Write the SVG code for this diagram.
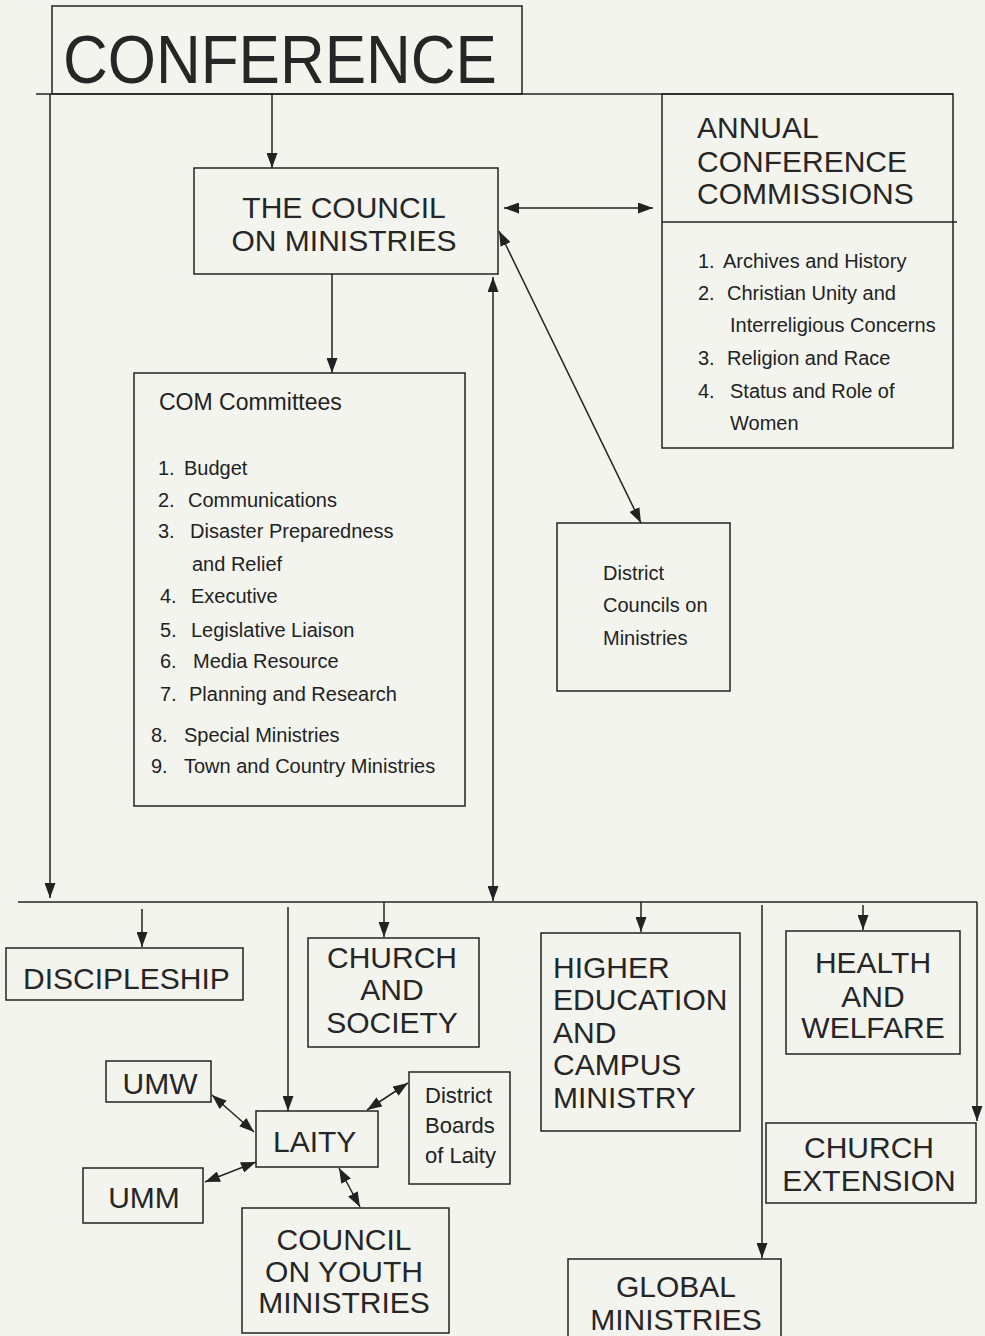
<svg xmlns="http://www.w3.org/2000/svg" width="985" height="1336" viewBox="0 0 985 1336">
<defs>
<marker id="ah" viewBox="0 0 15 11" refX="15" refY="5.5" markerWidth="15" markerHeight="11" orient="auto-start-reverse" markerUnits="userSpaceOnUse">
<path d="M0,0 L15,5.5 L0,11 z" fill="#222"/>
</marker>
<style>
.box{fill:none;stroke:#222;stroke-width:1.5}
.ln{fill:none;stroke:#222;stroke-width:1.5}
.a{marker-end:url(#ah)}
.d{marker-start:url(#ah);marker-end:url(#ah)}
.cap{font-family:"Liberation Sans",Arial,sans-serif;font-size:30px;fill:#262626}
.big{font-family:"Liberation Sans",Arial,sans-serif;font-size:62px;fill:#262626}
.sm{font-family:"Liberation Sans",Arial,sans-serif;font-size:20px;fill:#222}
.mid{text-anchor:middle}
</style>
</defs>
<rect x="0" y="0" width="985" height="1336" fill="#f4f4ef"/>

<g id="connectors">
<line class="ln a" x1="272" y1="94" x2="272" y2="168"/>
<line class="ln d" x1="504" y1="208" x2="653" y2="208"/>
<line class="ln a" x1="332" y1="274" x2="332" y2="373"/>
<line class="ln d" x1="499" y1="231" x2="641" y2="523"/>
<line class="ln d" x1="493" y1="277" x2="493" y2="901"/>
<line class="ln" x1="36" y1="94" x2="953" y2="94"/>
<line class="ln a" x1="50" y1="94" x2="50" y2="898"/>
<line class="ln" x1="18" y1="902" x2="977" y2="902"/>
<line class="ln a" x1="142" y1="909" x2="142" y2="947"/>
<line class="ln a" x1="288" y1="907" x2="288" y2="1111"/>
<line class="ln a" x1="384" y1="902" x2="384" y2="937"/>
<line class="ln a" x1="641" y1="902" x2="641" y2="932"/>
<line class="ln a" x1="762" y1="905" x2="762" y2="1258"/>
<line class="ln a" x1="863" y1="905" x2="863" y2="930"/>
<line class="ln a" x1="977" y1="902" x2="977" y2="1121"/>
<line class="ln d" x1="212" y1="1095" x2="254" y2="1132"/>
<line class="ln d" x1="205" y1="1182" x2="256" y2="1162"/>
<line class="ln d" x1="367" y1="1110" x2="408" y2="1083"/>
<line class="ln d" x1="339" y1="1168" x2="360" y2="1207"/>
</g>

<g id="conference">
<rect class="box" x="52" y="6" width="470" height="88"/>
<text class="big" transform="translate(63,83) scale(1,1.1)">CONFERENCE</text>
</g>

<g id="council">
<rect class="box" x="194" y="168" width="304" height="106"/>
<text class="cap mid" x="344" y="218">THE COUNCIL</text>
<text class="cap mid" x="344" y="251">ON MINISTRIES</text>
</g>

<g id="annual">
<rect class="box" x="662" y="94" width="291" height="354"/>
<line class="ln" x1="662" y1="222" x2="957" y2="222"/>
<text class="cap" x="697" y="138">ANNUAL</text>
<text class="cap" x="697" y="172">CONFERENCE</text>
<text class="cap" x="697" y="204">COMMISSIONS</text>
<text class="sm" x="698" y="268">1.</text><text class="sm" x="723" y="268">Archives and History</text>
<text class="sm" x="698" y="300">2.</text><text class="sm" x="727" y="300">Christian Unity and</text>
<text class="sm" x="730" y="332">Interreligious Concerns</text>
<text class="sm" x="698" y="365">3.</text><text class="sm" x="727" y="365">Religion and Race</text>
<text class="sm" x="698" y="398">4.</text><text class="sm" x="730" y="398">Status and Role of</text>
<text class="sm" x="730" y="430">Women</text>
</g>

<g id="com">
<rect class="box" x="134" y="373" width="331" height="433"/>
<text class="sm" x="159" y="410" style="font-size:23px">COM Committees</text>
<text class="sm" x="158" y="475">1.</text><text class="sm" x="184" y="475">Budget</text>
<text class="sm" x="158" y="507">2.</text><text class="sm" x="188" y="507">Communications</text>
<text class="sm" x="158" y="538">3.</text><text class="sm" x="190" y="538">Disaster Preparedness</text>
<text class="sm" x="192" y="571">and Relief</text>
<text class="sm" x="160" y="603">4.</text><text class="sm" x="191" y="603">Executive</text>
<text class="sm" x="160" y="637">5.</text><text class="sm" x="191" y="637">Legislative Liaison</text>
<text class="sm" x="160" y="668">6.</text><text class="sm" x="193" y="668">Media Resource</text>
<text class="sm" x="160" y="701">7.</text><text class="sm" x="189" y="701">Planning and Research</text>
<text class="sm" x="151" y="742">8.</text><text class="sm" x="184" y="742">Special Ministries</text>
<text class="sm" x="151" y="773">9.</text><text class="sm" x="184" y="773">Town and Country Ministries</text>
</g>

<g id="district-councils">
<rect class="box" x="557" y="523" width="173" height="168"/>
<text class="sm" x="603" y="580">District</text>
<text class="sm" x="603" y="612">Councils on</text>
<text class="sm" x="603" y="645">Ministries</text>
</g>

<g id="discipleship">
<rect class="box" x="6" y="948" width="237" height="52"/>
<text class="cap" x="23" y="989">DISCIPLESHIP</text>
</g>

<g id="church-society">
<rect class="box" x="308" y="938" width="171" height="109"/>
<text class="cap mid" x="392" y="968">CHURCH</text>
<text class="cap mid" x="392" y="1000">AND</text>
<text class="cap mid" x="392" y="1033">SOCIETY</text>
</g>

<g id="higher-education">
<rect class="box" x="541" y="933" width="199" height="198"/>
<text class="cap" x="553" y="978">HIGHER</text>
<text class="cap" x="553" y="1010">EDUCATION</text>
<text class="cap" x="553" y="1043">AND</text>
<text class="cap" x="553" y="1075">CAMPUS</text>
<text class="cap" x="553" y="1108">MINISTRY</text>
</g>

<g id="health-welfare">
<rect class="box" x="786" y="931" width="174" height="123"/>
<text class="cap mid" x="873" y="973">HEALTH</text>
<text class="cap mid" x="873" y="1007">AND</text>
<text class="cap mid" x="873" y="1038">WELFARE</text>
</g>

<g id="church-extension">
<rect class="box" x="766" y="1123" width="210" height="80"/>
<text class="cap mid" x="869" y="1158">CHURCH</text>
<text class="cap mid" x="869" y="1191">EXTENSION</text>
</g>

<g id="global-ministries">
<rect class="box" x="568" y="1259" width="213" height="90"/>
<text class="cap mid" x="676" y="1297">GLOBAL</text>
<text class="cap mid" x="676" y="1330">MINISTRIES</text>
</g>

<g id="umw">
<rect class="box" x="106" y="1061" width="105" height="41"/>
<text class="cap mid" x="160" y="1094">UMW</text>
</g>

<g id="umm">
<rect class="box" x="83" y="1168" width="120" height="55"/>
<text class="cap mid" x="144" y="1208">UMM</text>
</g>

<g id="laity">
<rect class="box" x="256" y="1111" width="122" height="56"/>
<text class="cap" x="273" y="1152">LAITY</text>
</g>

<g id="district-boards">
<rect class="box" x="409" y="1072" width="101" height="112"/>
<text class="sm" x="425" y="1103" style="font-size:22px">District</text>
<text class="sm" x="425" y="1133" style="font-size:22px">Boards</text>
<text class="sm" x="425" y="1163" style="font-size:22px">of Laity</text>
</g>

<g id="council-youth">
<rect class="box" x="242" y="1208" width="207" height="125"/>
<text class="cap mid" x="344" y="1250">COUNCIL</text>
<text class="cap mid" x="344" y="1282">ON YOUTH</text>
<text class="cap mid" x="344" y="1313">MINISTRIES</text>
</g>
</svg>
